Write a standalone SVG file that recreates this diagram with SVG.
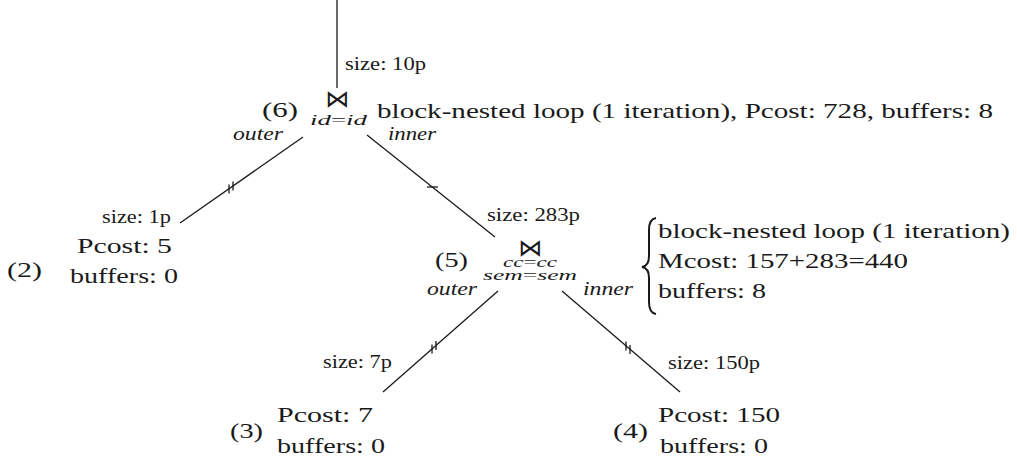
<svg xmlns="http://www.w3.org/2000/svg" width="1017" height="463" viewBox="0 0 1017 463">
<style>
text{font-family:"Liberation Serif","DejaVu Serif",serif;fill:#1a1a1a}
.m{font-size:22px}
.s{font-size:18px}
.i{font-style:italic;font-size:18px}
.sub{font-style:italic;font-size:15px}
.bt{font-family:"DejaVu Sans",sans-serif;font-size:24px}
.e{stroke:#1a1a1a;stroke-width:1.3;fill:none}
</style>
<rect width="1017" height="463" fill="#fff"/>
<g id="connectors">
<line class="e" x1="337" y1="0" x2="337" y2="88"/>
<line class="e" x1="303" y1="137" x2="180" y2="223"/>
<line class="e" x1="229" y1="184.5" x2="229" y2="193.5"/>
<line class="e" x1="233" y1="181.5" x2="233" y2="190.5"/>
<line class="e" x1="367" y1="135" x2="495" y2="237"/>
<line class="e" x1="427" y1="187" x2="438" y2="187"/>
<line class="e" x1="498" y1="291" x2="383" y2="392"/>
<line class="e" x1="432" y1="344.5" x2="432" y2="353.5"/>
<line class="e" x1="436" y1="341" x2="436" y2="350"/>
<line class="e" x1="562" y1="291" x2="680" y2="392"/>
<line class="e" x1="626" y1="341.5" x2="626" y2="350.5"/>
<line class="e" x1="630" y1="345" x2="630" y2="354"/>
</g>
<g id="label-top"><text class="s" x="345" y="70" textLength="81" lengthAdjust="spacingAndGlyphs">size: 10p</text></g>
<g id="node6">
<text class="m" x="262" y="117" textLength="36" lengthAdjust="spacingAndGlyphs">(6)</text>
<text class="bt" x="337" y="107" text-anchor="middle">⋈</text>
<text class="sub" x="310" y="125" textLength="57" lengthAdjust="spacingAndGlyphs" font-size="17">id<tspan font-style="normal">=</tspan>id</text>
<text class="m" x="377" y="118" textLength="616" lengthAdjust="spacingAndGlyphs">block-nested loop (1 iteration), Pcost: 728, buffers: 8</text>
<text class="i" x="233" y="140" textLength="50" lengthAdjust="spacingAndGlyphs">outer</text>
<text class="i" x="388" y="140" textLength="48" lengthAdjust="spacingAndGlyphs">inner</text>
</g>
<g id="node2">
<text class="s" x="102" y="223" textLength="69" lengthAdjust="spacingAndGlyphs">size: 1p</text>
<text class="m" x="7" y="277" textLength="35" lengthAdjust="spacingAndGlyphs">(2)</text>
<text class="m" x="77" y="253" textLength="95" lengthAdjust="spacingAndGlyphs">Pcost: 5</text>
<text class="m" x="70" y="283" textLength="108" lengthAdjust="spacingAndGlyphs">buffers: 0</text>
</g>
<g id="node5">
<text class="s" x="487" y="221" textLength="93" lengthAdjust="spacingAndGlyphs">size: 283p</text>
<text class="m" x="435" y="267" textLength="33" lengthAdjust="spacingAndGlyphs">(5)</text>
<text class="bt" x="530" y="256" text-anchor="middle">⋈</text>
<text class="sub" x="503" y="267" textLength="54" lengthAdjust="spacingAndGlyphs">cc<tspan font-style="normal">=</tspan>cc</text>
<text class="sub" x="483" y="280" textLength="94" lengthAdjust="spacingAndGlyphs">sem<tspan font-style="normal">=</tspan>sem</text>
<text class="i" x="427" y="295" textLength="50" lengthAdjust="spacingAndGlyphs">outer</text>
<text class="i" x="583" y="295" textLength="50" lengthAdjust="spacingAndGlyphs">inner</text>
<path d="M656,218 Q649,219 649,230 L649,256 Q649,266 642,267 Q649,268 649,278 L649,302 Q649,313 656,314" fill="none" stroke="#1a1a1a" stroke-width="2"/>
<text class="m" x="658" y="238" textLength="352" lengthAdjust="spacingAndGlyphs">block-nested loop (1 iteration)</text>
<text class="m" x="658" y="268" textLength="250" lengthAdjust="spacingAndGlyphs">Mcost: 157+283=440</text>
<text class="m" x="658" y="298" textLength="108" lengthAdjust="spacingAndGlyphs">buffers: 8</text>
</g>
<g id="node3">
<text class="s" x="323" y="368" textLength="69" lengthAdjust="spacingAndGlyphs">size: 7p</text>
<text class="m" x="230" y="438" textLength="33" lengthAdjust="spacingAndGlyphs">(3)</text>
<text class="m" x="277" y="422" textLength="96" lengthAdjust="spacingAndGlyphs">Pcost: 7</text>
<text class="m" x="277" y="453" textLength="108" lengthAdjust="spacingAndGlyphs">buffers: 0</text>
</g>
<g id="node4">
<text class="s" x="668" y="369" textLength="92" lengthAdjust="spacingAndGlyphs">size: 150p</text>
<text class="m" x="613" y="438" textLength="35" lengthAdjust="spacingAndGlyphs">(4)</text>
<text class="m" x="658" y="422" textLength="122" lengthAdjust="spacingAndGlyphs">Pcost: 150</text>
<text class="m" x="660" y="453" textLength="108" lengthAdjust="spacingAndGlyphs">buffers: 0</text>
</g>
</svg>
